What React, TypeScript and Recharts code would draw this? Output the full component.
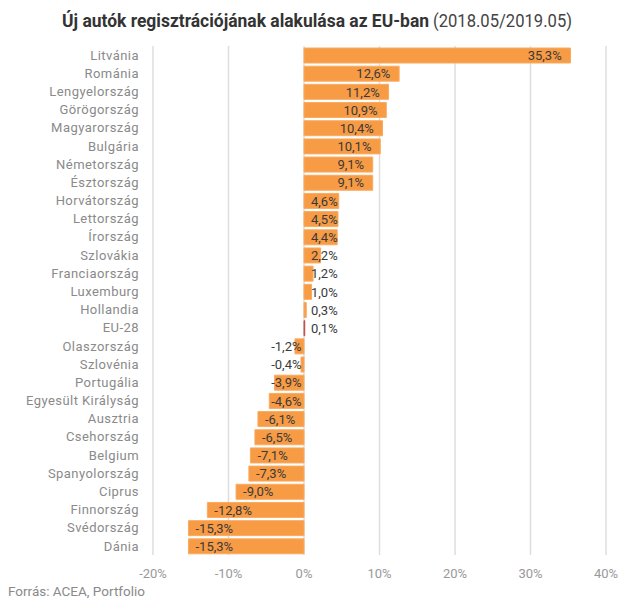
import React from "react";
import { BarChart, Bar, XAxis, YAxis, CartesianGrid, Cell, LabelList } from "recharts";

const categories = [
  "Litvánia", "Románia", "Lengyelország", "Görögország", "Magyarország", "Bulgária",
  "Németország", "Észtország", "Horvátország", "Lettország", "Írország", "Szlovákia",
  "Franciaország", "Luxemburg", "Hollandia", "EU-28", "Olaszország", "Szlovénia",
  "Portugália", "Egyesült Királyság", "Ausztria", "Csehország", "Belgium",
  "Spanyolország", "Ciprus", "Finnország", "Svédország", "Dánia",
];
const values = [
  35.3, 12.6, 11.2, 10.9, 10.4, 10.1, 9.1, 9.1, 4.6, 4.5, 4.4, 2.2, 1.2, 1.0, 0.3, 0.1,
  -1.2, -0.4, -3.9, -4.6, -6.1, -6.5, -7.1, -7.3, -9.0, -12.8, -15.3, -15.3,
];
const xTicks = [-20, -10, 0, 10, 20, 30, 40];
const highlight = "EU-28";

const data = categories.map((name, i) => ({ name, value: values[i] }));

const fmt = (v: number) => v.toFixed(1).replace(".", ",") + "%";

const charW: Record<string, number> = { ",": 2.7, "%": 9.6, "-": 4.5 };
const textWidth = (s: string) =>
  s.split("").reduce((a, c) => a + (charW[c] !== undefined ? charW[c] : 7.5), 0);

const FONT = "Roboto, 'Noto Sans', sans-serif";

const renderLabel = (props: any) => {
  const { x, y, width, height, value } = props;
  const v = Number(value);
  const txt = fmt(v);
  const tw = textWidth(txt);
  const x0 = Number(x);
  const x1 = Number(x) + Number(width);
  const left = Math.min(x0, x1);
  const right = Math.max(x0, x1);
  let start: number;
  if (v >= 0) {
    const zero = left;
    start = Math.max(zero + 7, right - 8 - tw);
  } else {
    const zero = right;
    start = Math.min(left + 7, zero - 1 - tw);
  }
  return (
    <text
      x={start}
      y={Number(y) + Number(height) / 2}
      dy="0.36em"
      textAnchor="start"
      fontSize={13}
      fontFamily={FONT}
      fill="#3a3a3a"
    >
      {txt}
    </text>
  );
};

export default function App() {
  return (
    <div style={{ position: "absolute", left: 0, top: 0, width: 640, height: 605, background: "#fff" }}>
      <svg width={640} height={40} style={{ position: "absolute", left: 0, top: 0 }}>
        <text
          x={62}
          y={27}
          fontFamily={FONT}
          fontSize={18}
          fontWeight="bold"
          fill="#333"
          textLength={367}
          lengthAdjust="spacingAndGlyphs"
        >
          Új autók regisztrációjának alakulása az EU-ban
        </text>
        <text
          x={433}
          y={27}
          fontFamily={FONT}
          fontSize={18}
          fill="#444"
          textLength={139}
          lengthAdjust="spacingAndGlyphs"
        >
          (2018.05/2019.05)
        </text>
      </svg>
      <div style={{ position: "absolute", left: 0, top: 0 }}>
        <BarChart
          width={640}
          height={605}
          data={data}
          layout="vertical"
          margin={{ top: 46, right: 34, left: 0, bottom: 0 }}
          barSize={15}
        >
          <CartesianGrid horizontal={false} stroke="#dedede" strokeWidth={1.5} />
          <XAxis
            type="number"
            domain={[-20, 40]}
            ticks={xTicks}
            tickFormatter={(v: number) => v + "%"}
            axisLine={false}
            tickLine={false}
            tickSize={0}
            tickMargin={14}
            height={50}
            tick={{ fontSize: 13, fontFamily: FONT, fill: "#999" }}
            interval={0}
          />
          <YAxis
            type="category"
            dataKey="name"
            width={153}
            axisLine={false}
            tickLine={false}
            tickSize={0}
            tickMargin={14}
            interval={0}
            tick={{ fontSize: 13, fontFamily: FONT, fill: "#8a8a8a", letterSpacing: 0.45 }}
          />
          <Bar dataKey="value" isAnimationActive={false} stroke="#f8ab62" strokeWidth={1}>
            {data.map((d) => (
              <Cell
                key={d.name}
                fill={d.name === highlight ? "#c0504d" : "#f79b45"}
                stroke={d.name === highlight ? "#c0504d" : "#f8ab62"}
              />
            ))}
            <LabelList dataKey="value" content={renderLabel} />
          </Bar>
        </BarChart>
      </div>
      <div
        style={{
          position: "absolute",
          left: 8,
          top: 583,
          fontFamily: FONT,
          fontSize: 13.5,
          color: "#8a8a8a",
          whiteSpace: "nowrap",
        }}
      >
        Forrás: ACEA, Portfolio
      </div>
    </div>
  );
}
